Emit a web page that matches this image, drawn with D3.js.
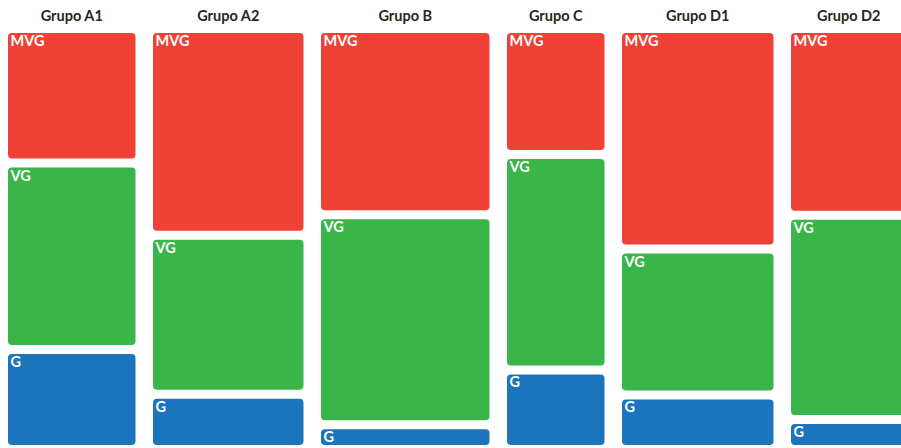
<!DOCTYPE html>
<html>
<head>
<meta charset="utf-8">
<script src="https://cdn.jsdelivr.net/npm/d3@7"></script>
<style>
  html, body { margin: 0; padding: 0; background: #fff; overflow: hidden; }
  svg { display: block; }
</style>
</head>
<body>
<svg id="chart" width="901" height="448"></svg>
<script>
// Groups (column widths follow group size) and category shares per group (%)
const groups     = ["Grupo A1", "Grupo A2", "Grupo B", "Grupo C", "Grupo D1", "Grupo D2"];
const groupSizes = [145, 168, 186, 115, 169, 133];
const categories = ["MVG", "VG", "G"];
const mvgValues  = [32.0, 49.1, 44.3, 29.9, 52.5, 44.3];
const vgValues   = [44.3, 37.8, 50.0, 51.2, 34.7, 48.5];
const gValues    = [23.8, 13.1, 5.9, 18.9, 13.0, 7.1];
const colors     = ["#EF4136", "#39B54A", "#1C75BC"];

const plotTop = 28.5, plotBottom = 449.5;   // outer edges before cell padding
const padX = 17.5, padY = 9;                // gutters between cells

const svg = d3.select("#chart");

const rows = groups.map((g, i) => ({
  group: g, size: groupSizes[i],
  MVG: mvgValues[i], VG: vgValues[i], G: gValues[i]
}));

// Horizontal: cumulative group sizes
const totalSize = d3.sum(groupSizes);
const x = d3.scaleLinear().domain([0, totalSize]).range([-0.75, totalSize - 0.75]);
let acc = 0;
rows.forEach(r => { r.x0 = acc; acc += r.size; r.x1 = acc; });

// Vertical: shares normalised within each group
const y = d3.scaleLinear().domain([0, 1]).range([plotTop, plotBottom]);
const stack = d3.stack().keys(categories).offset(d3.stackOffsetExpand);
const layers = stack(rows);

const color = d3.scaleOrdinal().domain(categories).range(colors);

// Group titles
svg.append("g").selectAll("text")
  .data(rows)
  .join("text")
  .attr("x", d => (x(d.x0) + x(d.x1)) / 2)
  .attr("y", 21)
  .attr("text-anchor", "middle")
  .attr("font-family", "Lato, 'Open Sans', sans-serif")
  .attr("font-weight", 700)
  .attr("font-size", 14.5)
  .attr("fill", "#262626")
  .text(d => d.group);

const cells = [];
layers.forEach(layer => {
  layer.forEach(seg => {
    cells.push({
      key: layer.key,
      x0: x(seg.data.x0) + padX / 2,
      x1: x(seg.data.x1) - padX / 2,
      y0: y(seg[0]) + padY / 2,
      y1: y(seg[1]) - padY / 2
    });
  });
});

const cell = svg.append("g").selectAll("g")
  .data(cells)
  .join("g");

cell.append("rect")
  .attr("x", d => d.x0)
  .attr("y", d => d.y0)
  .attr("width", d => d.x1 - d.x0)
  .attr("height", d => d.y1 - d.y0)
  .attr("rx", 4)
  .attr("ry", 4)
  .attr("fill", d => color(d.key));

cell.append("text")
  .attr("x", d => d.x0 + 2.5)
  .attr("y", d => d.y0 + 13)
  .attr("font-family", "Lato, 'Open Sans', sans-serif")
  .attr("font-weight", 700)
  .attr("font-size", 14.5)
  .attr("fill", "#fff")
  .text(d => d.key);
</script>
</body>
</html>
